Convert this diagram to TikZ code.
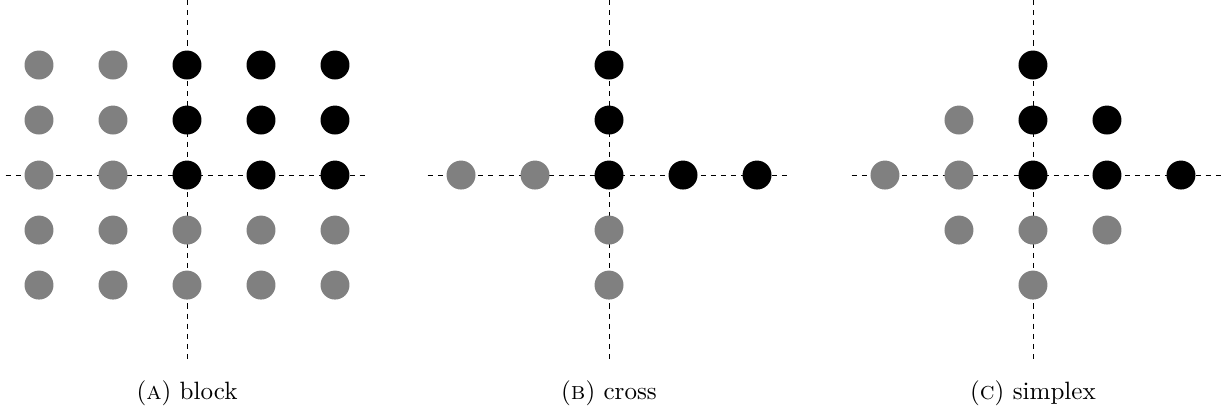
\documentclass[tikz,border=0pt]{standalone}
\usepackage{tikz}

\begin{document}
\begin{tikzpicture}[x=32.19pt,y=23.93pt,
    grey/.style={circle,fill=gray,minimum size=12.6pt,inner sep=0},
    blk/.style={circle,fill=black,minimum size=12.6pt,inner sep=0},
    axis/.style={dash pattern=on 2.2pt off 2.2pt,line width=0.4pt},
    subcap/.style={anchor=base,font=\fontsize{10.9pt}{13pt}\selectfont}]
    \useasboundingbox (0,3.182) rectangle (16.5,-4.382);

    % axes of the three panels
    \draw
    (2.527,3.182)coordinate(an) (2.527,-3.418)coordinate(as)
    (0.077,0)coordinate(aw) (4.977,0)coordinate(ae)
    (8.230,3.182)coordinate(bn) (8.230,-3.418)coordinate(bs)
    (5.780,0)coordinate(bw) (10.680,0)coordinate(be)
    (13.959,3.182)coordinate(cn) (13.959,-3.418)coordinate(cs)
    (11.509,0)coordinate(cw) (16.5,0)coordinate(ce)
    ;
    \draw[axis](an)--(as);
    \draw[axis](aw)--(ae);
    \draw[axis](bn)--(bs);
    \draw[axis](bw)--(be);
    \draw[axis](cn)--(cs);
    \draw[axis](cw)--(ce);

    % block
    \path
    (0.527,2)node[grey](a11){} (1.527,2)node[grey](a12){} (2.527,2)node[blk](a13){} (3.527,2)node[blk](a14){} (4.527,2)node[blk](a15){}
    (0.527,1)node[grey](a21){} (1.527,1)node[grey](a22){} (2.527,1)node[blk](a23){} (3.527,1)node[blk](a24){} (4.527,1)node[blk](a25){}
    (0.527,0)node[grey](a31){} (1.527,0)node[grey](a32){} (2.527,0)node[blk](a33){} (3.527,0)node[blk](a34){} (4.527,0)node[blk](a35){}
    (0.527,-1)node[grey](a41){} (1.527,-1)node[grey](a42){} (2.527,-1)node[grey](a43){} (3.527,-1)node[grey](a44){} (4.527,-1)node[grey](a45){}
    (0.527,-2)node[grey](a51){} (1.527,-2)node[grey](a52){} (2.527,-2)node[grey](a53){} (3.527,-2)node[grey](a54){} (4.527,-2)node[grey](a55){}
    (2.527,-4.073)node[subcap](acap){(\textsc{a}) block}

    % cross
    (8.230,2)node[blk](b13){}
    (8.230,1)node[blk](b23){}
    (6.230,0)node[grey](b31){} (7.230,0)node[grey](b32){} (8.230,0)node[blk](b33){} (9.230,0)node[blk](b34){} (10.230,0)node[blk](b35){}
    (8.230,-1)node[grey](b43){}
    (8.230,-2)node[grey](b53){}
    (8.230,-4.073)node[subcap](bcap){(\textsc{b}) cross}

    % simplex
    (13.959,2)node[blk](c13){}
    (12.959,1)node[grey](c22){} (13.959,1)node[blk](c23){} (14.959,1)node[blk](c24){}
    (11.959,0)node[grey](c31){} (12.959,0)node[grey](c32){} (13.959,0)node[blk](c33){} (14.959,0)node[blk](c34){} (15.959,0)node[blk](c35){}
    (12.959,-1)node[grey](c42){} (13.959,-1)node[grey](c43){} (14.959,-1)node[grey](c44){}
    (13.959,-2)node[grey](c53){}
    (13.959,-4.073)node[subcap](ccap){(\textsc{c}) simplex}
    ;

\end{tikzpicture}
\end{document}
